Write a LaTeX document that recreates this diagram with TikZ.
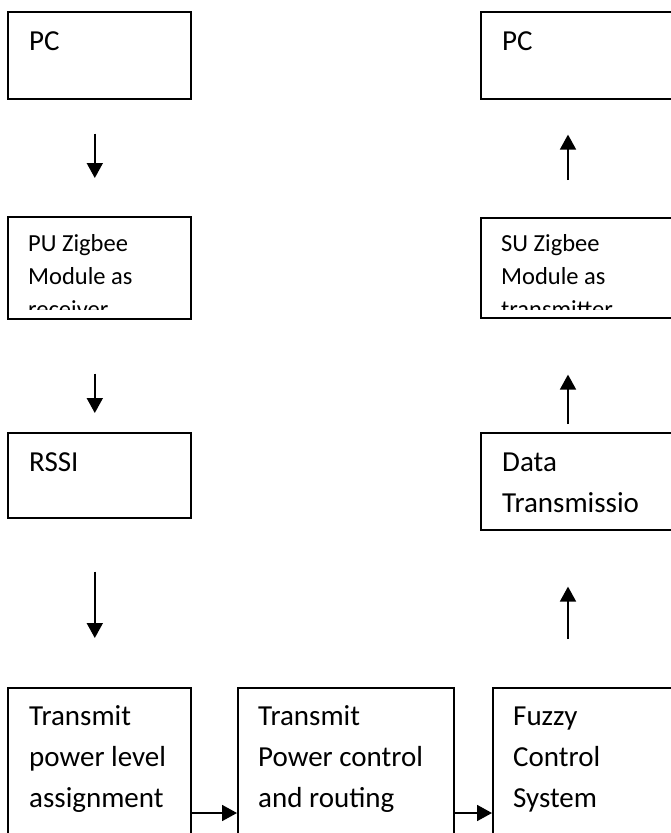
\documentclass[tikz,border=0pt]{standalone}
\usepackage{fontspec}
\setmainfont{Carlito}
\usepackage{tikz}
\usetikzlibrary{arrows.meta, positioning}
\tikzset{
    block/.style={rectangle, draw=black, line width=1.6pt, fill=white, anchor=north west, inner sep=0pt},
    blocktext/.style={anchor=base west, inner sep=0pt, align=left, font=\fontsize{29}{41}\selectfont},
    tighttext/.style={blocktext, font=\fontsize{24.5}{33}\selectfont},
    flow/.style={line width=1.8pt, -{Triangle[length=15pt, width=16pt]}, black}
}

\begin{document}
\begin{tikzpicture}[x=1pt, y=-1pt]
    \useasboundingbox (0, 0) rectangle (671, 833);
    \clip (0, 0) rectangle (671, 833);
    % left column
    \node[block, minimum width=183pt, minimum height=87pt] (pcl) at (7, 11) {};
    \node[block, minimum width=183pt, minimum height=102pt] (pul) at (7, 216) {};
    \node[block, minimum width=183pt, minimum height=85pt] (rssi) at (7, 432) {};
    % bottom row
    \node[block, minimum width=183pt, minimum height=170pt] (tpla) at (7, 687) {};
    \node[block, minimum width=216pt, minimum height=170pt] (tpcr) at (237, 687) {};
    \node[block, minimum width=230pt, minimum height=170pt] (fuzzy) at (492, 687) {};
    % right column
    \node[block, minimum width=230pt, minimum height=87pt] (pcr) at (480, 11) {};
    \node[block, minimum width=230pt, minimum height=100pt] (sur) at (480, 217) {};
    \node[block, minimum width=230pt, minimum height=97pt] (data) at (480, 432) {};

    % box texts (placed at the baseline of their last line)
    \node[blocktext] (pcl-text) at (29, 50) {PC};
    \node[blocktext] (rssi-text) at (29, 471) {RSSI};
    \node[blocktext] (tpla-text) at (29, 807) {Transmit\\power level\\assignment};
    \node[blocktext] (tpcr-text) at (258, 807) {Transmit\\Power control\\and routing};
    \node[blocktext] (fuzzy-text) at (513, 807) {Fuzzy\\Control\\System};
    \node[blocktext] (pcr-text) at (502, 50) {PC};
    \node[blocktext] (data-text) at (502, 512) {Data\\Transmissio};
    % text running past the box bottom is cut off
    \begin{scope}
        \clip (7, 216) rectangle (190, 309);
        \node[tighttext] (pul-text) at (28, 317) {PU Zigbee\\Module as\\receiver};
    \end{scope}
    \begin{scope}
        \clip (480, 217) rectangle (671, 309);
        \node[tighttext] (sur-text) at (501, 317) {SU Zigbee\\Module as\\transmitter};
    \end{scope}

    % downward flow
    \draw[flow, shorten <=34pt, shorten >=38pt] ([xshift=-4.5pt]pcl.south) -- ([xshift=-4.5pt]pul.north);
    \draw[flow, shorten <=54pt, shorten >=19pt] ([xshift=-4.5pt]pul.south) -- ([xshift=-4.5pt]rssi.north);
    \draw[flow, shorten <=53pt, shorten >=49pt] ([xshift=-4.5pt]rssi.south) -- ([xshift=-4.5pt]tpla.north);
    % across the bottom
    \draw[flow] ([yshift=-126pt]tpla.north east) -- ([yshift=-126pt]tpcr.north west);
    \draw[flow] ([yshift=-126pt]tpcr.north east) -- ([yshift=-126pt]fuzzy.north west);
    % upward flow
    \draw[flow, shorten <=48pt, shorten >=56pt] ([xshift=76pt]fuzzy.north west) -- ([xshift=88pt]data.south west);
    \draw[flow, shorten <=8pt, shorten >=56pt] ([xshift=88pt]data.north west) -- ([xshift=88pt]sur.south west);
    \draw[flow, shorten <=37pt, shorten >=35pt] ([xshift=88pt]sur.north west) -- ([xshift=88pt]pcr.south west);
\end{tikzpicture}
\end{document}
